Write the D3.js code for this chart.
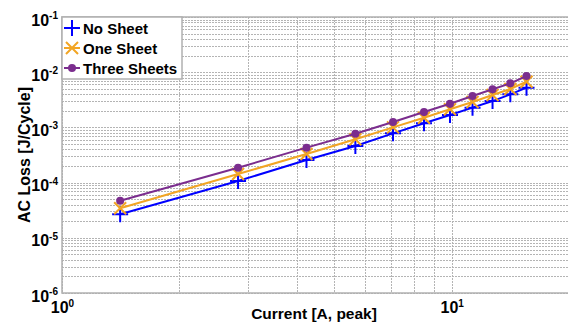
<!DOCTYPE html>
<html>
<head>
<meta charset="utf-8">
<script src="https://cdn.jsdelivr.net/npm/d3@7"></script>
<style>
  html, body { margin: 0; padding: 0; background: #fff; }
  svg { display: block; font-family: "Liberation Sans", Arial, sans-serif; }
</style>
</head>
<body>
<svg id="chart" width="568" height="325"></svg>
<script>
// Peak current [A]
const current = [1.41, 2.83, 4.24, 5.66, 7.07, 8.49, 9.90, 11.31, 12.73, 14.14, 15.56];
// AC loss per cycle [J/Cycle]
const noSheet     = [2.67e-5, 1.07e-4, 2.56e-4, 4.6e-4, 7.8e-4, 1.19e-3, 1.68e-3, 2.28e-3, 3.0e-3, 3.97e-3, 5.24e-3];
const oneSheet    = [3.42e-5, 1.43e-4, 3.30e-4, 6.08e-4, 1.0e-3, 1.50e-3, 2.13e-3, 2.88e-3, 3.86e-3, 4.97e-3, 6.73e-3];
const threeSheets = [4.70e-5, 1.86e-4, 4.30e-4, 7.69e-4, 1.25e-3, 1.90e-3, 2.69e-3, 3.71e-3, 4.9e-3, 6.28e-3, 8.53e-3];
const seriesNames = ["No Sheet", "One Sheet", "Three Sheets"];
const xTickValues = [1, 10];
const yTickValues = [1e-6, 1e-5, 1e-4, 1e-3, 1e-2, 1e-1];

const colors = ["#0000ff", "#f2a524", "#7b2d8e"];
const markers = ["plus", "cross", "dot"];

const svg = d3.select("#chart");
const m = { left: 62, top: 17, right: 569, bottom: 293 };

const x = d3.scaleLog().domain([1, 20]).range([m.left, m.right]);
const y = d3.scaleLog().domain([1e-6, 1e-1]).range([m.bottom, m.top]);

// grid: decades plus 2..9 subdivisions
const xGrid = [];
for (const d of [1, 10]) for (let k = 1; k <= 9; k++) { const v = d * k; if (v <= 20) xGrid.push(v); }
xGrid.push(20);
const yGrid = [];
for (let e = -6; e < -1; e++) for (let k = 1; k <= 9; k++) yGrid.push(k * Math.pow(10, e));
yGrid.push(1e-1);

const grid = svg.append("g");
grid.selectAll("line.gx").data(xGrid).join("line")
  .attr("x1", d => Math.round(x(d)) + 0.5).attr("x2", d => Math.round(x(d)) + 0.5)
  .attr("y1", m.top).attr("y2", m.bottom)
  .attr("stroke", "#b4b4b4").attr("stroke-width", 1)
  .attr("stroke-dasharray", "2,1");
grid.selectAll("line.gy").data(yGrid).join("line")
  .attr("x1", m.left).attr("x2", m.right)
  .attr("y1", d => Math.round(y(d)) + 0.5).attr("y2", d => Math.round(y(d)) + 0.5)
  .attr("stroke", "#b4b4b4").attr("stroke-width", 1)
  .attr("stroke-dasharray", "2,1");

// frame
svg.append("rect")
  .attr("x", m.left).attr("y", m.top)
  .attr("width", m.right - m.left).attr("height", m.bottom - m.top)
  .attr("fill", "none").attr("stroke", "#b0b0b0").attr("stroke-width", 1.5);

// axes with 10^n labels
function powerLabels(sel) {
  sel.selectAll(".tick text").each(function(d) {
    const t = d3.select(this);
    const e = Math.round(Math.log10(d));
    t.text(null);
    t.append("tspan").text("10");
    t.append("tspan").attr("dy", "-0.65em").attr("font-size", "10px").text(e);
  });
}

const yAxis = svg.append("g")
  .attr("transform", `translate(${m.left},0)`)
  .call(d3.axisLeft(y).tickValues(yTickValues).tickSize(0).tickPadding(4))
  .call(g => g.select(".domain").remove());
yAxis.selectAll("text").attr("font-size", "16px").attr("font-weight", "bold")
  .attr("fill", "#000").attr("font-family", "Liberation Sans, Arial, sans-serif").attr("dy", "0.5em");
powerLabels(yAxis);

const xAxis = svg.append("g")
  .attr("transform", `translate(0,${m.bottom})`)
  .call(d3.axisBottom(x).tickValues(xTickValues).tickSize(0).tickPadding(9))
  .call(g => g.select(".domain").remove());
xAxis.selectAll("text").attr("font-size", "16px").attr("font-weight", "bold")
  .attr("fill", "#000").attr("font-family", "Liberation Sans, Arial, sans-serif");
powerLabels(xAxis);

// axis titles
svg.append("text")
  .attr("x", 314).attr("y", 319)
  .attr("text-anchor", "middle").attr("font-size", "15.5px").attr("font-weight", "bold")
  .text("Current [A, peak]");
svg.append("text")
  .attr("transform", "translate(30,155) rotate(-90)")
  .attr("text-anchor", "middle").attr("font-size", "16px").attr("font-weight", "bold")
  .text("AC Loss [J/Cycle]");

// series
const series = [noSheet, oneSheet, threeSheets].map((vals, i) => ({
  name: seriesNames[i], color: colors[i], marker: markers[i],
  points: current.map((c, j) => [c, vals[j]])
}));

const line = d3.line().x(d => x(d[0])).y(d => y(d[1]));

function drawMarker(g, type, color, cx, cy) {
  if (type === "plus") {
    g.append("path").attr("d", `M${cx - 8},${cy}H${cx + 8}M${cx},${cy - 8}V${cy + 8}`)
      .attr("stroke", color).attr("stroke-width", 2).attr("fill", "none");
  } else if (type === "cross") {
    g.append("path").attr("d", `M${cx - 6},${cy - 6}L${cx + 6},${cy + 6}M${cx - 6},${cy + 6}L${cx + 6},${cy - 6}`)
      .attr("stroke", color).attr("stroke-width", 2).attr("fill", "none");
  } else {
    g.append("circle").attr("cx", cx).attr("cy", cy).attr("r", 4).attr("fill", color);
  }
}

const plot = svg.append("g");
series.forEach(s => {
  plot.append("path").datum(s.points).attr("d", line)
    .attr("fill", "none").attr("stroke", s.color).attr("stroke-width", 2);
  const mg = plot.append("g");
  s.points.forEach(p => drawMarker(mg, s.marker, s.color, x(p[0]), y(p[1])));
});

// legend
const lg = svg.append("g");
lg.append("rect").attr("x", m.left).attr("y", m.top).attr("width", 120).attr("height", 62)
  .attr("fill", "#fff").attr("stroke", "#b0b0b0").attr("stroke-width", 1.5);
series.forEach((s, i) => {
  const cy = 28 + i * 20;
  lg.append("line").attr("x1", 64).attr("x2", 80).attr("y1", cy).attr("y2", cy)
    .attr("stroke", s.color).attr("stroke-width", 2);
  drawMarker(lg, s.marker, s.color, 72, cy);
  lg.append("text").attr("x", 83).attr("y", cy + 5.5)
    .attr("font-size", "15px").attr("font-weight", "bold").text(s.name);
});
</script>
</body>
</html>
